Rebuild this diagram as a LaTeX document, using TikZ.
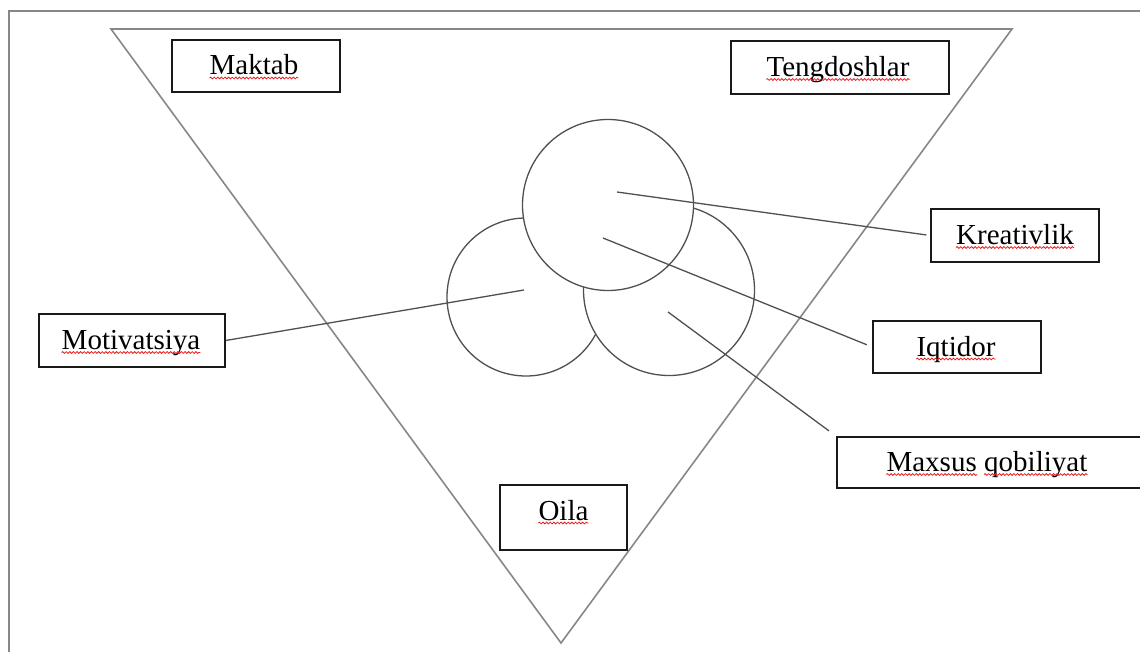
\documentclass[tikz,border=0pt]{standalone}
\usepackage{fontspec}
\setmainfont{Liberation Serif}
\usetikzlibrary{decorations.pathmorphing}

\definecolor{lgry}{RGB}{135, 135, 135}
\definecolor{dgry}{RGB}{80, 80, 80}
\definecolor{wred}{RGB}{235, 30, 30}

\begin{document}
\begin{tikzpicture}[x=1pt, y=-1pt,
		box/.style={draw=black!90, line width=1.4pt, fill=white, inner sep=0pt},
		word/.style={inner sep=0pt, anchor=base, yshift=-9pt, font=\fontsize{29}{35}\selectfont},
		ring/.style={circle, draw=dgry, line width=1.3pt, fill=white, inner sep=0pt, minimum size=#1},
		tie/.style={dgry, line width=1.3pt},
		squig/.style={wred, line width=0.8pt, decorate,
				decoration={snake, segment length=3.6pt, amplitude=0.9pt}}]
			\clip (0,0) rectangle (1140,652);

			% --- Frame and triangle ---
			\draw[lgry, line width=1.6pt] (9,700) -- (9,11) -- (1200,11);
			\draw[lgry, line width=1.6pt] (111,29) -- (1012,29) -- (561,643) -- cycle;

			% --- Circles ---
			\node[ring=158] (cleft) at (526,297) {};
			\node[ring=171] (cright) at (669,290) {};
			\node[ring=171] (ctop) at (608,205) {};

			% --- Connectors ---
			\coordinate (kr) at (617,192);
			\coordinate (iq) at (603,238);
			\coordinate (mx) at (668,312);
			\coordinate (mo) at (524,290);

			% --- Boxes ---
			\node[box, minimum width=168, minimum height=52] (maktab) at (256,66) {};
			\node[box, minimum width=218, minimum height=53] (tengd) at (840,67.5) {};
			\node[box, minimum width=186, minimum height=53] (motiv) at (132,340.5) {};
			\node[box, minimum width=168, minimum height=53] (kreat) at (1015,235.5) {};
			\node[box, minimum width=168, minimum height=52] (iqtid) at (957,347) {};
			\node[box, minimum width=308, minimum height=51] (maxsus) at (991,462.5) {};
			\node[box, minimum width=127, minimum height=65] (oila) at (563.5,517.5) {};

			\node[word] (maktab-t) at ([xshift=-2pt]maktab.center) {Maktab};
			\node[word] (tengd-t) at ([xshift=-2pt]tengd.center) {Tengdoshlar};
			\node[word] (motiv-t) at ([xshift=-1pt]motiv.center) {Motivatsiya};
			\node[word] (kreat-t) at (kreat.center) {Kreativlik};
			\node[word] (iqtid-t) at ([xshift=-1pt]iqtid.center) {Iqtidor};
			\node[word, anchor=base east] (maxsus-t) at ([xshift=-14pt]maxsus.center) {Maxsus};
			\node[word, yshift=9pt, anchor=base west] (qobil-t) at ([xshift=7pt]maxsus-t.base east) {qobiliyat};
			\node[word, yshift=6.5pt] (oila-t) at (oila.center) {Oila};

			% red spell-check waves
			\foreach \t in {maktab-t, tengd-t, motiv-t, kreat-t, iqtid-t, maxsus-t, qobil-t, oila-t}
				\draw[squig] ([yshift=-3pt]\t.base west) -- ([yshift=-3pt]\t.base east);

			\draw[tie, shorten >=4pt] (kr) -- (kreat.west);
			\draw[tie, shorten >=6pt] (iq) -- (iqtid.west);
			\draw[tie, shorten >=9pt] (mx) -- (maxsus.north west);
			\draw[tie] (mo) -- (motiv.east);

		\end{tikzpicture}
\end{document}
